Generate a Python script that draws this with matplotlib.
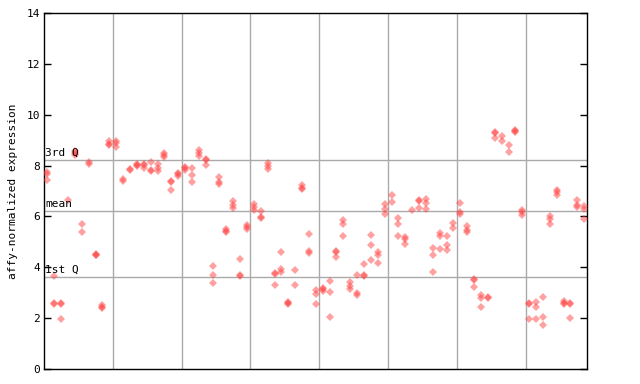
import numpy as np
import matplotlib.pyplot as plt

# expression values per sample column (8 groups of columns)
group1 = [[7.75, 7.65, 7.45], [3.67, 2.6, 2.55], [2.6, 2.55, 1.97], [6.64],
          [8.58, 8.48, 8.42], [5.70, 5.39], [8.15, 8.07], [4.52, 4.48, 4.50],
          [2.52, 2.45, 2.40], [8.98, 8.85, 8.82]]
group2 = [[8.98, 8.88, 8.75], [7.48, 7.40], [7.86, 7.82], [8.06, 8.00, 8.02],
          [8.07, 8.03, 7.92], [8.14, 7.83, 7.80], [8.08, 7.92, 7.80],
          [8.48, 8.40, 8.33], [7.39, 7.35, 7.04], [7.72, 7.68, 7.60]]
group3 = [[7.95, 7.90, 7.82], [7.90, 7.63, 7.35], [8.62, 8.50, 8.38],
          [8.26, 8.22, 8.02], [4.05, 3.70, 3.40], [7.55, 7.37, 7.28],
          [5.50, 5.42, 5.38], [6.62, 6.45, 6.35], [4.32, 3.68, 3.65],
          [5.65, 5.60, 5.50]]
group4 = [[6.48, 6.37, 6.26], [6.20, 5.97, 5.94], [8.12, 8.00, 7.88],
          [3.78, 3.74, 3.31], [4.60, 3.93, 3.82], [2.62, 2.58, 2.55],
          [3.89, 3.31], [7.22, 7.10, 7.06], [5.30, 4.66, 4.56],
          [3.12, 2.96, 2.55]]
group5 = [[3.20, 3.15, 3.08], [3.46, 3.03, 2.04], [4.65, 4.60, 4.42],
          [5.84, 5.72, 5.23], [3.42, 3.26, 3.14], [3.69, 2.99, 2.90],
          [4.13, 3.70, 3.66], [5.28, 4.87, 4.28], [4.60, 4.48, 4.17],
          [6.48, 6.29, 6.09]]
group6 = [[6.84, 6.56], [5.93, 5.70, 5.23], [5.21, 5.12, 4.91], [6.25],
          [6.65, 6.61, 6.33], [6.69, 6.52, 6.29], [4.76, 4.48, 3.81],
          [5.35, 5.24, 4.72], [5.23, 4.87, 4.68], [5.74, 5.54]]
group7 = [[6.53, 6.18, 6.10], [5.63, 5.48, 5.40], [3.53, 3.49, 3.22],
          [2.91, 2.80, 2.44], [2.83, 2.80], [9.32, 9.28, 9.08], [9.17, 8.95],
          [8.80, 8.53], [9.40, 9.36, 9.33], [6.26, 6.16, 6.04]]
group8 = [[2.60, 2.56, 1.97], [2.62, 2.45, 1.97], [2.83, 2.04, 1.73],
          [6.00, 5.91, 5.70], [7.02, 6.98, 6.85], [2.66, 2.58, 2.55],
          [2.60, 2.56, 2.00], [6.65, 6.45, 6.38], [6.42, 6.30, 5.91]]

q1, mean_val, q3 = 3.62, 6.22, 8.22

groups = [group1, group2, group3, group4, group5, group6, group7, group8]

fig = plt.figure(figsize=(6.4, 3.84), dpi=100)
ax = fig.add_axes([44 / 640, 15 / 384, 543 / 640, 356 / 384])

xs, ys = [], []
col = 0
for g in groups:
    for vals in g:
        for v in vals:
            xs.append(col)
            ys.append(v)
        col += 1

# group separators
for k in range(1, len(groups)):
    ax.axvline(10 * k - 0.5, color='#aaaaaa', lw=1, zorder=1)

for yv, name in [(q3, '3rd Q'), (mean_val, 'mean'), (q1, '1st Q')]:
    ax.axhline(yv, color='#aaaaaa', lw=1, zorder=1)
    ax.text(-0.3, yv + 0.08, name, family='DejaVu Sans Mono', fontsize=8,
            ha='left', va='bottom', zorder=4)

ax.plot(xs, ys, 'D', color='#ff4444', alpha=0.5, markersize=3.6,
        markeredgewidth=0, zorder=3)

ax.set_xlim(-0.5, 78.4)
ax.set_ylim(0, 14)
ax.set_yticks(np.arange(0, 15, 2))
ax.set_xticks([])
ax.tick_params(axis='y', direction='in', length=5, width=1, pad=3,
               labelsize=8, right=True)
for lab in ax.get_yticklabels():
    lab.set_family('DejaVu Sans Mono')
ax.set_ylabel('affy-normalized expression', family='DejaVu Sans Mono',
              fontsize=8, labelpad=6)
for s in ax.spines.values():
    s.set_linewidth(1)

plt.savefig('out.png', dpi=100)
